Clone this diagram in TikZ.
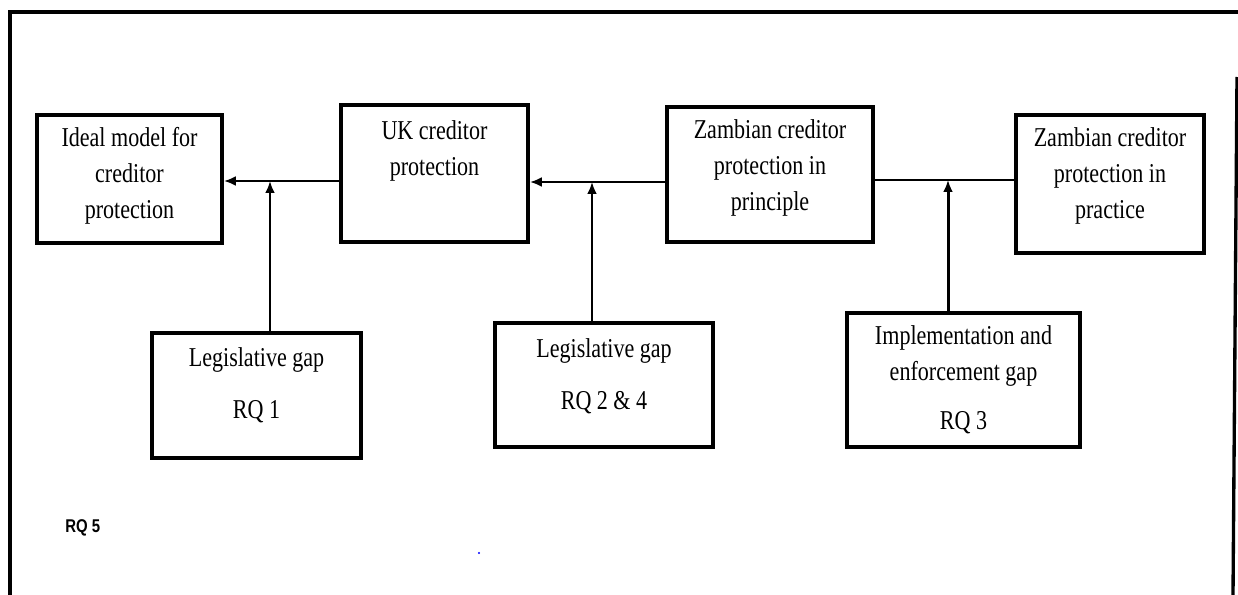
\documentclass[tikz,border=0pt]{standalone}
\usepackage{fontspec}
\setmainfont{Liberation Serif}[FakeStretch=0.81]
\newfontfamily\rqfont{Liberation Sans}[FakeStretch=0.81]
\usepackage{tikz}
\usetikzlibrary{arrows.meta}

\begin{document}
\begin{tikzpicture}[x=0.02cm, y=-0.02cm,
    box/.style={draw, line width=2.1pt, align=center, inner sep=0pt,
        font=\fontsize{15.5}{20.5}\selectfont},
    link/.style={line width=1.7pt},
    arr/.style={link, -{Latex[length=0.24cm, width=0.2cm]}}]
  \useasboundingbox (0,0) rectangle (1238,595);

  % outer frame (bottom cut off)
  \draw[line width=1.9pt] (10,595) -- (10,12) -- (1238,12);
  \draw[line width=1.9pt] (1237,77) -- (1233,595);

  % top row
  \node[box, minimum width=3.7cm, minimum height=2.56cm, text depth=6.7pt]
      (ideal) at (129.5,179) {Ideal model for\\creditor\\protection};
  \node[box, minimum width=3.74cm, minimum height=2.74cm, text depth=8pt]
      (uk) at (434.5,173.5) {UK creditor\\protection\\\mbox{}};
  \node[box, minimum width=4.12cm, minimum height=2.7cm, text depth=11.3pt]
      (princ) at (770,174.5) {Zambian creditor\\protection in\\principle};
  \node[box, minimum width=3.76cm, minimum height=2.76cm, text depth=12.3pt]
      (pract) at (1110,184) {Zambian creditor\\protection in\\practice};

  % gap boxes
  \node[box, minimum width=4.18cm, minimum height=2.5cm, text depth=14.4pt]
      (gap1) at (256.5,395.5) {Legislative gap\\[0.32cm]RQ 1};
  \node[box, minimum width=4.36cm, minimum height=2.48cm, text depth=13pt]
      (gap2) at (604,385) {Legislative gap\\[0.32cm]RQ 2 \& 4};
  \node[box, minimum width=4.66cm, minimum height=2.68cm]
      (gap3) at (963.5,380) {Implementation and\\enforcement gap\\[0.26cm]RQ 3};

  \node[font=\rqfont\bfseries\fontsize{10.5}{12}\selectfont, anchor=west,
      inner sep=0pt] (rq5) at (65,528) {RQ 5};
  \fill[blue] (479,553) circle (1.2);

  % joints on the main line
  \coordinate (j1) at (270,181);
  \coordinate (j2) at (592,182);
  \coordinate (j3) at (948,180);

  \draw[arr] (uk.west |- j1) -- (ideal.east |- j1); % uk-ideal
  \draw[arr] (princ.west |- j2) -- (uk.east |- j2); % principle-uk
  \draw[link] (princ.east |- j3) -- (pract.west |- j3); % principle-practice

  \draw[arr] (j1 |- gap1.north) -- (j1); % gap1
  \draw[arr] (j2 |- gap2.north) -- (j2); % gap2
  \draw[arr] (j3 |- gap3.north) -- (j3); % gap3
\end{tikzpicture}
\end{document}
